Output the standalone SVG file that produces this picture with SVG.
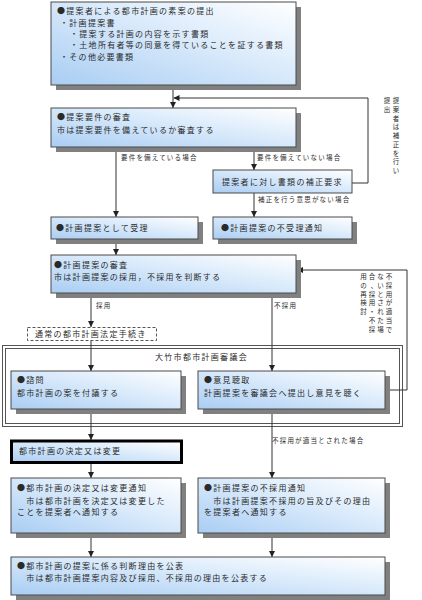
<svg xmlns="http://www.w3.org/2000/svg" width="422" height="600" viewBox="0 0 422 600">
<defs>
<linearGradient id="g" x1="0" y1="1" x2="1" y2="0">
<stop offset="0" stop-color="#a9cdf3"/>
<stop offset="0.55" stop-color="#d9eafb"/>
<stop offset="1" stop-color="#ffffff"/>
</linearGradient>
<marker id="ah" markerWidth="6" markerHeight="6" refX="6" refY="3" orient="auto" markerUnits="userSpaceOnUse">
<path d="M0,0 L6,3 L0,6 z" fill="#222"/>
</marker>
<style>
.box{fill:url(#g);stroke:#4a4a4a;stroke-width:1}
.sh{fill:#808080}
.t{font-family:"Noto Sans CJK JP","Noto Sans CJK SC",sans-serif;font-size:8px;letter-spacing:1.3px;fill:#2a2a2a}
.s{font-size:6.5px;letter-spacing:1.2px}
.v{font-family:"Noto Sans CJK JP","Noto Sans CJK SC",sans-serif;font-size:6.5px;fill:#2a2a2a;text-anchor:middle}
.c{stroke:#333;stroke-width:1;fill:none}
.a{marker-end:url(#ah)}
.fr{fill:none;stroke:#555;stroke-width:1}
</style>
</defs>
<rect width="422" height="600" fill="#fff"/>

<g id="council">
<rect class="fr" x="2.5" y="345.5" width="400" height="81"/>
<rect class="fr" x="5.5" y="348.5" width="394" height="75"/>
<text class="t" x="155" y="360">大竹市都市計画審議会</text>
</g>

<g id="connectors">
<line class="c a" x1="173" y1="85" x2="173" y2="108"/>
<polyline class="c a" points="352,183 368,183 368,98 173.5,98"/>
<line class="c a" x1="116" y1="147" x2="116" y2="217"/>
<line class="c a" x1="254" y1="147" x2="254" y2="170"/>
<line class="c a" x1="254" y1="193" x2="254" y2="217"/>
<line class="c a" x1="116" y1="239" x2="116" y2="255"/>
<line class="c a" x1="91" y1="293" x2="91" y2="327"/>
<line class="c a" x1="272" y1="293" x2="272" y2="371"/>
<line class="c a" x1="91" y1="340" x2="91" y2="371"/>
<polyline class="c a" points="385,390 407,390 407,270 297,270"/>
<line class="c a" x1="91" y1="409" x2="91" y2="440"/>
<line class="c a" x1="272" y1="409" x2="272" y2="478"/>
<line class="c a" x1="91" y1="463" x2="91" y2="478"/>
<line class="c a" x1="91" y1="533" x2="91" y2="557"/>
<line class="c a" x1="272" y1="533" x2="272" y2="557"/>
<text class="t s" x="121" y="160">要件を備えている場合</text>
<text class="t s" x="257" y="160">要件を備えていない場合</text>
<text class="t s" x="258" y="202">補正を行う意思がない場合</text>
<text class="t s" x="96" y="308">採用</text>
<text class="t s" x="274" y="308">不採用</text>
<text class="t s" x="272" y="443">不採用が適当とされた場合</text>
<text class="v"><tspan x="396" y="103.3">提</tspan><tspan x="396" y="112">案</tspan><tspan x="396" y="120.7">者</tspan><tspan x="396" y="129.4">は</tspan><tspan x="396" y="138.1">補</tspan><tspan x="396" y="146.8">正</tspan><tspan x="396" y="155.5">を</tspan><tspan x="396" y="164.2">行</tspan><tspan x="396" y="172.9">い</tspan></text>
<text class="v"><tspan x="387" y="103.3">提</tspan><tspan x="387" y="112">出</tspan></text>
<text class="v"><tspan x="389" y="279.3">不</tspan><tspan x="389" y="288">採</tspan><tspan x="389" y="296.7">用</tspan><tspan x="389" y="305.4">が</tspan><tspan x="389" y="314.1">適</tspan><tspan x="389" y="322.8">当</tspan><tspan x="389" y="331.5">で</tspan></text>
<text class="v"><tspan x="380.5" y="279.3">な</tspan><tspan x="380.5" y="288">い</tspan><tspan x="380.5" y="296.7">と</tspan><tspan x="380.5" y="305.4">さ</tspan><tspan x="380.5" y="314.1">れ</tspan><tspan x="380.5" y="322.8">た</tspan><tspan x="380.5" y="331.5">場</tspan></text>
<text class="v"><tspan x="372" y="279.3">合</tspan><tspan x="374" y="288">、</tspan><tspan x="372" y="296.7">採</tspan><tspan x="372" y="305.4">用</tspan><tspan x="372" y="314.1">・</tspan><tspan x="372" y="322.8">不</tspan><tspan x="372" y="331.5">採</tspan></text>
<text class="v"><tspan x="363.5" y="279.3">用</tspan><tspan x="363.5" y="288">の</tspan><tspan x="363.5" y="296.7">再</tspan><tspan x="363.5" y="305.4">検</tspan><tspan x="363.5" y="314.1">討</tspan></text>
</g>

<g id="n1">
<rect class="sh" x="56" y="7" width="245" height="83"/>
<rect class="box" x="51" y="2" width="245" height="83"/>
<text class="t" x="57" y="14">●提案者による都市計画の素案の提出</text>
<text class="t" x="60" y="26">・計画提案書</text>
<text class="t" x="70" y="37">・提案する計画の内容を示す書類</text>
<text class="t" x="70" y="48">・土地所有者等の同意を得ていることを証する書類</text>
<text class="t" x="60" y="60">・その他必要書類</text>
</g>

<g id="n2">
<rect class="sh" x="56" y="113" width="245" height="39"/>
<rect class="box" x="51" y="108" width="245" height="39"/>
<text class="t" x="57" y="120">●提案要件の審査</text>
<text class="t" x="57" y="133">市は提案要件を備えているか審査する</text>
</g>

<g id="n3">
<rect class="box" x="213" y="170" width="139" height="23"/>
<text class="t" x="222" y="184.5">提案者に対し書類の補正要求</text>
</g>

<g id="n4">
<rect class="sh" x="56" y="222" width="147" height="22"/>
<rect class="box" x="51" y="217" width="147" height="22"/>
<text class="t" x="56" y="231">●計画提案として受理</text>
</g>

<g id="n5">
<rect class="sh" x="218" y="222" width="139" height="22"/>
<rect class="box" x="213" y="217" width="139" height="22"/>
<text class="t" x="221" y="231">●計画提案の不受理通知</text>
</g>

<g id="n6">
<rect class="sh" x="56" y="260" width="245" height="38"/>
<rect class="box" x="51" y="255" width="245" height="38"/>
<text class="t" x="54" y="268">●計画提案の審査</text>
<text class="t" x="54" y="280">市は計画提案の採用，不採用を判断する</text>
</g>

<g id="n7">
<rect x="27.5" y="327.5" width="129" height="13" fill="#fff" stroke="#555" stroke-width="1" stroke-dasharray="3,2"/>
<text class="t" x="35" y="337">通常の都市計画法定手続き</text>
</g>

<g id="n8">
<rect class="sh" x="16" y="376" width="170" height="38"/>
<rect class="box" x="11" y="371" width="170" height="38"/>
<text class="t" x="17" y="383">●諮問</text>
<text class="t" x="17" y="396">都市計画の案を付議する</text>
</g>

<g id="n9">
<rect class="sh" x="203" y="376" width="187" height="38"/>
<rect class="box" x="198" y="371" width="187" height="38"/>
<text class="t" x="204" y="383">●意見聴取</text>
<text class="t" x="204" y="396">計画提案を審議会へ提出し意見を聴く</text>
</g>

<g id="n10">
<rect x="11.5" y="441" width="170" height="21.5" fill="url(#g)" stroke="#000" stroke-width="3"/>
<text class="t" x="19" y="454">都市計画の決定又は変更</text>
</g>

<g id="n11">
<rect class="sh" x="16" y="483" width="170" height="55"/>
<rect class="box" x="11" y="478" width="170" height="55"/>
<text class="t" x="17" y="491">●都市計画の決定又は変更通知</text>
<text class="t" x="17" y="504">　市は都市計画を決定又は変更した</text>
<text class="t" x="17" y="515">ことを提案者へ通知する</text>
</g>

<g id="n12">
<rect class="sh" x="203" y="483" width="187" height="55"/>
<rect class="box" x="198" y="478" width="187" height="55"/>
<text class="t" x="204" y="491">●計画提案の不採用通知</text>
<text class="t" x="204" y="504">　市は計画提案不採用の旨及びその理由</text>
<text class="t" x="204" y="515">を提案者へ通知する</text>
</g>

<g id="n13">
<rect class="sh" x="16" y="562" width="374" height="38"/>
<rect class="box" x="11" y="557" width="374" height="38"/>
<text class="t" x="17" y="569">●都市計画の提案に係る判断理由を公表</text>
<text class="t" x="17" y="581">　市は都市計画提案内容及び採用、不採用の理由を公表する</text>
</g>
</svg>
